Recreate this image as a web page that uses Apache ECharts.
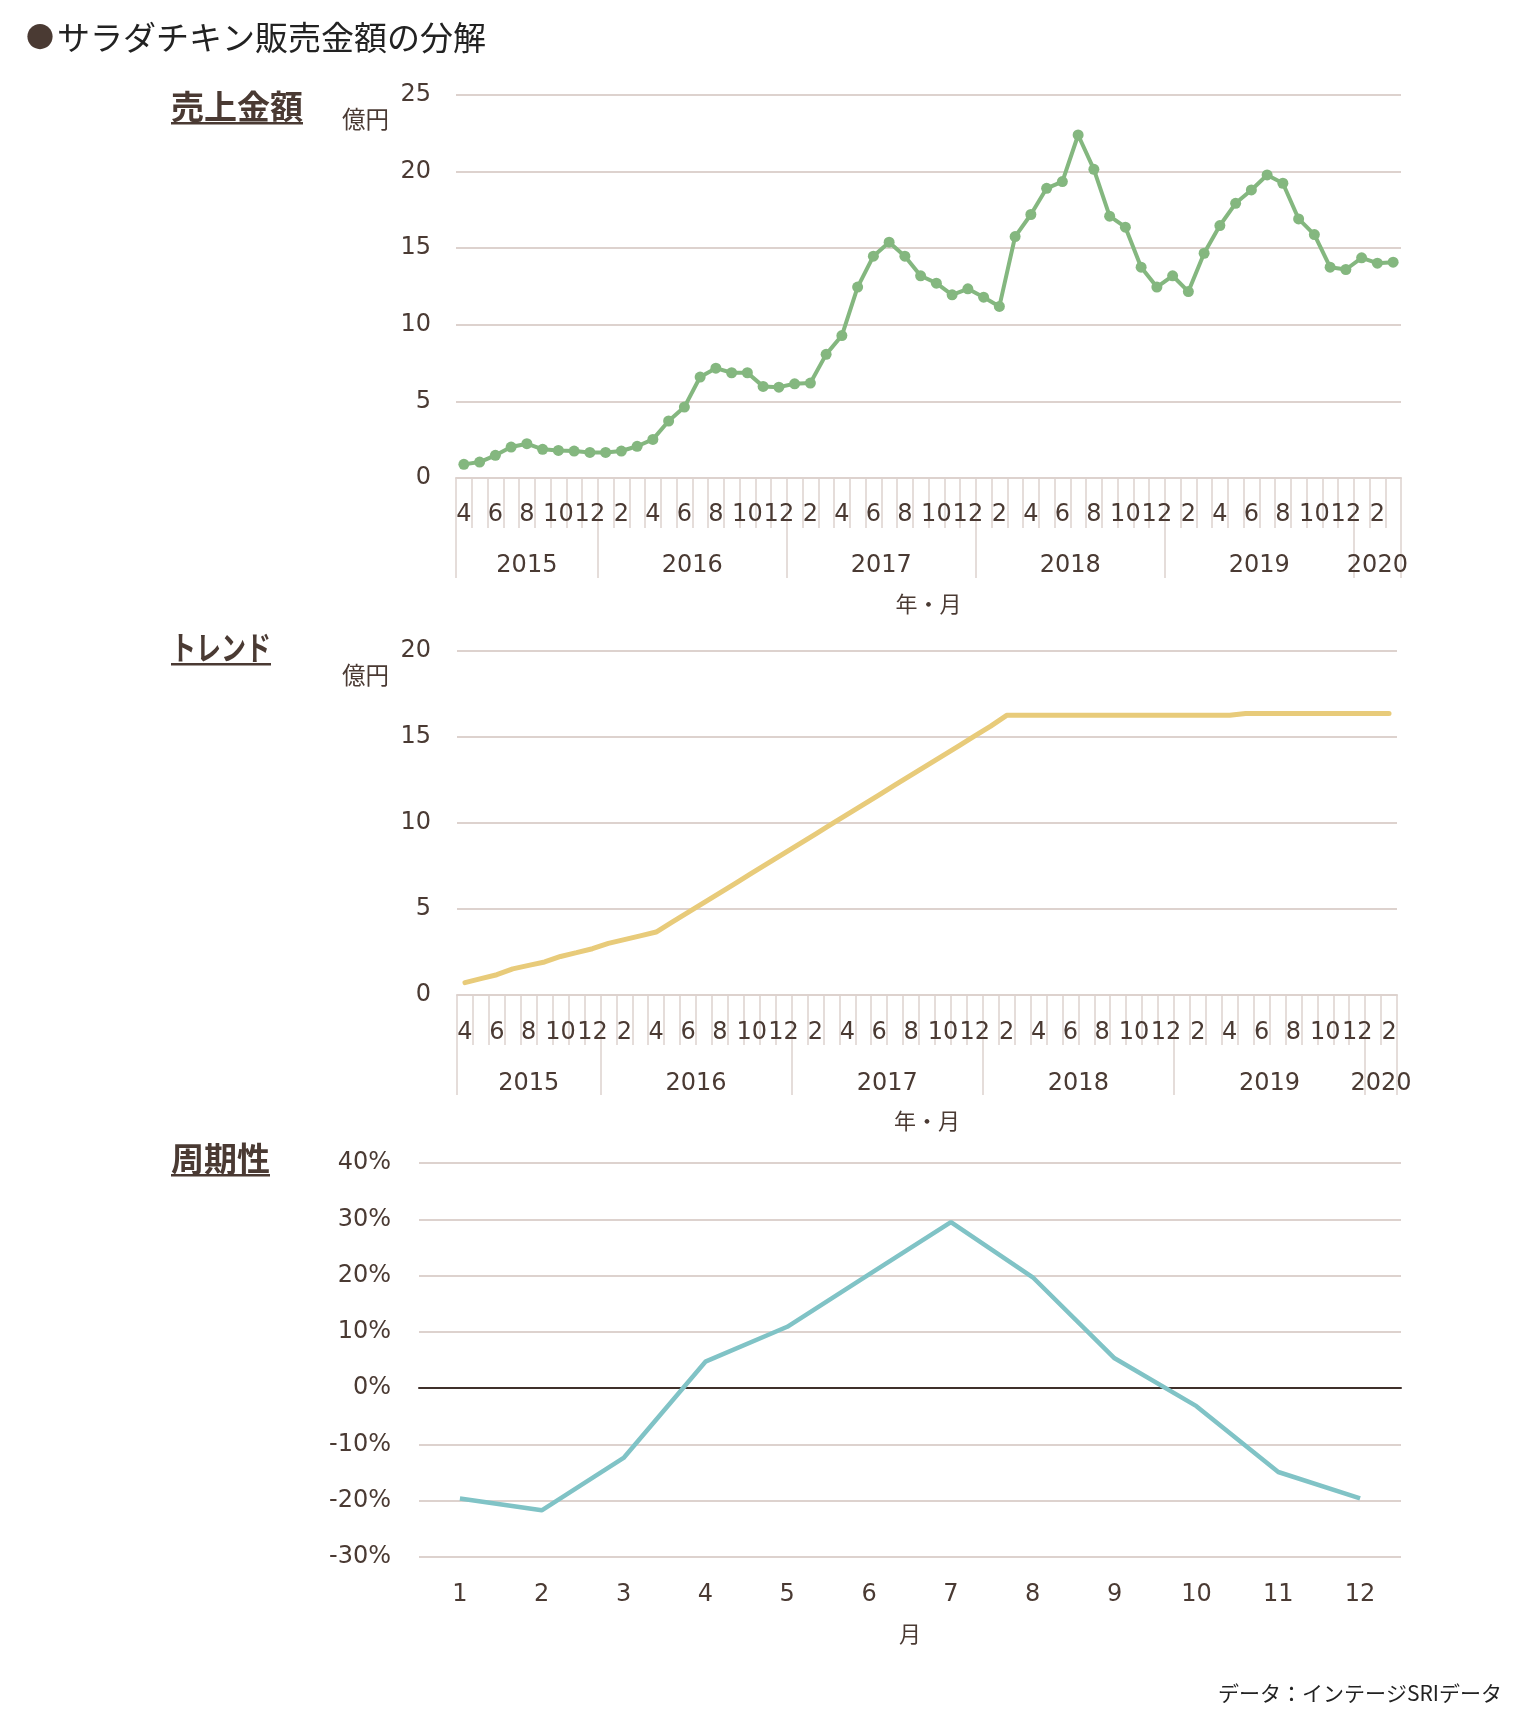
<!DOCTYPE html>
<html>
<head>
<meta charset="utf-8">
<title>サラダチキン販売金額の分解</title>
<script src="https://cdn.jsdelivr.net/npm/echarts@6/dist/echarts.min.js"></script>
<style>
  html, body { margin: 0; padding: 0; background: #fff; }
  #chart { width: 1520px; height: 1723px; }
</style>
</head>
<body>
<div id="chart"></div>
<script>
// 年/月（2015年4月〜2020年3月）
var salesPeriods = [
    '2015/4', '2015/5', '2015/6', '2015/7', '2015/8', '2015/9', '2015/10', '2015/11', '2015/12',
    '2016/1', '2016/2', '2016/3', '2016/4', '2016/5', '2016/6', '2016/7', '2016/8', '2016/9', '2016/10', '2016/11', '2016/12',
    '2017/1', '2017/2', '2017/3', '2017/4', '2017/5', '2017/6', '2017/7', '2017/8', '2017/9', '2017/10', '2017/11', '2017/12',
    '2018/1', '2018/2', '2018/3', '2018/4', '2018/5', '2018/6', '2018/7', '2018/8', '2018/9', '2018/10', '2018/11', '2018/12',
    '2019/1', '2019/2', '2019/3', '2019/4', '2019/5', '2019/6', '2019/7', '2019/8', '2019/9', '2019/10', '2019/11', '2019/12',
    '2020/1', '2020/2', '2020/3'
];

// 売上金額（億円）
var sales = [
    0.89, 1.04, 1.48, 2.02, 2.24, 1.87, 1.80, 1.76, 1.67,
    1.67, 1.76, 2.07, 2.52, 3.72, 4.63, 6.59, 7.17, 6.87, 6.87, 5.98, 5.93,
    6.15, 6.20, 8.07, 9.30, 12.46, 14.48, 15.39, 14.48, 13.20, 12.72, 11.96, 12.35,
    11.80, 11.20, 15.76, 17.20, 18.91, 19.35, 22.39, 20.15, 17.09, 16.37, 13.76, 12.46,
    13.20, 12.17, 14.67, 16.48, 17.93, 18.80, 19.78, 19.24, 16.91, 15.89, 13.76, 13.61,
    14.37, 14.02, 14.09
];

// トレンド（億円、2015年4月〜2020年2月）
var trend = [
    0.72, 0.95, 1.18, 1.52, 1.72, 1.92, 2.24, 2.46, 2.69,
    3.00, 3.22, 3.44, 3.66, 4.23, 4.80, 5.37, 5.94, 6.51, 7.08, 7.65, 8.22,
    8.79, 9.36, 9.93, 10.50, 11.07, 11.64, 12.21, 12.78, 13.35, 13.92, 14.49, 15.06,
    15.63, 16.26, 16.26, 16.26, 16.26, 16.26, 16.26, 16.26, 16.26, 16.26, 16.26, 16.26,
    16.26, 16.26, 16.26, 16.26, 16.36, 16.36, 16.36, 16.36, 16.36, 16.36, 16.36, 16.36,
    16.36, 16.36
];
var trendPeriods = salesPeriods.slice(0, trend.length);

// 周期性（%）
var seasonMonths = ['1', '2', '3', '4', '5', '6', '7', '8', '9', '10', '11', '12'];
var seasonality = [-19.6, -21.7, -12.4, 4.7, 10.9, 20.2, 29.5, 19.7, 5.3, -3.2, -14.9, -19.6];

// 目盛り
var salesTicks = [0, 5, 10, 15, 20, 25];
var trendTicks = [0, 5, 10, 15, 20];
var seasonTicks = [-30, -20, -10, 0, 10, 20, 30, 40];

var FONT = "'DejaVu Sans', 'Noto Sans CJK JP', sans-serif";
var JP = "'Noto Sans CJK JP', sans-serif";
var TEXT = '#4a3a33';
var GRID = '#ddd2ce';

var chart = echarts.init(document.getElementById('chart'));

// 年ごとのまとまり
function yearGroups(periods) {
    var groups = [];
    periods.forEach(function (p, i) {
        var y = p.split('/')[0];
        var last = groups[groups.length - 1];
        if (last && last.year === y) {
            last.count++;
        } else {
            groups.push({year: y, start: i, count: 1});
        }
    });
    return groups;
}

// 月ラベルの軸
function monthAxis(gridIndex, periods, margin) {
    return {
        type: 'category',
        gridIndex: gridIndex,
        position: 'bottom',
        data: periods,
        axisLine: {show: true, lineStyle: {color: GRID, width: 2}},
        axisTick: {show: true, interval: 0, length: 50, lineStyle: {color: GRID, width: 1.5}},
        axisLabel: {
            interval: 1, margin: margin, fontSize: 24, color: TEXT, fontFamily: FONT,
            formatter: function (v) { return v.split('/')[1]; }
        },
        splitLine: {show: false}
    };
}

// 年ラベルの軸（半月刻みで区切り線と中央のラベルを置く）
function yearAxis(gridIndex, periods, margin, nameGap) {
    var groups = yearGroups(periods);
    var n = periods.length;
    var slots = [];
    for (var j = 0; j <= 2 * n; j++) slots.push(String(j));
    var labelAt = {}, tickAt = {};
    groups.forEach(function (g) {
        labelAt[2 * g.start + g.count] = g.year;
        tickAt[2 * g.start] = true;
    });
    tickAt[2 * n] = true;
    return {
        type: 'category',
        gridIndex: gridIndex,
        position: 'bottom',
        boundaryGap: false,
        data: slots,
        axisLine: {show: false},
        axisTick: {
            show: true, length: 100, lineStyle: {color: GRID, width: 1.5},
            interval: function (i) { return !!tickAt[i]; }
        },
        axisLabel: {
            interval: 0, margin: margin, fontSize: 24, color: TEXT, fontFamily: FONT,
            formatter: function (v, i) { return labelAt[i] || ''; }
        },
        splitLine: {show: false},
        name: '年・月',
        nameLocation: 'middle',
        nameGap: nameGap,
        nameTextStyle: {fontSize: 22, color: TEXT, fontFamily: JP}
    };
}

function valueAxis(gridIndex, ticks, margin, formatter) {
    return {
        type: 'value',
        gridIndex: gridIndex,
        min: ticks[0],
        max: ticks[ticks.length - 1],
        interval: ticks[1] - ticks[0],
        axisLine: {show: false},
        axisTick: {show: false},
        axisLabel: {margin: margin, fontSize: 24, color: TEXT, fontFamily: FONT, formatter: formatter},
        splitLine: {lineStyle: {color: GRID, width: 2}}
    };
}

// 文字幅（下線用）
var ctx = document.createElement('canvas').getContext('2d');
function textWidth(str, font) {
    ctx.font = font;
    return ctx.measureText(str).width;
}

// 見出し（太字＋下線）。fitWidth があれば横幅をそろえる
function sectionTitle(text, y, fitWidth) {
    var font = 'bold 33px ' + JP;
    var w = textWidth(text, font);
    var sx = fitWidth ? fitWidth / w : 1;
    return [
        {type: 'text', x: 171, y: y, scaleX: sx, style: {text: text, font: font, fill: TEXT, align: 'left', verticalAlign: 'middle'}},
        {type: 'rect', shape: {x: 171, y: y + 16, width: w * sx, height: 2.5}, style: {fill: TEXT}}
    ];
}

var graphics = [
    {type: 'text', x: 26, y: 37, style: {text: '●', font: '28px ' + JP, fill: TEXT, align: 'left', verticalAlign: 'middle'}},
    {type: 'text', x: 57, y: 37, style: {text: 'サラダチキン販売金額の分解', font: '33px ' + JP, fill: '#222', align: 'left', verticalAlign: 'middle'}},
    {type: 'text', x: 342, y: 119, style: {text: '億円', font: '23.5px ' + JP, fill: TEXT, align: 'left', verticalAlign: 'middle'}},
    {type: 'text', x: 342, y: 675, style: {text: '億円', font: '23.5px ' + JP, fill: TEXT, align: 'left', verticalAlign: 'middle'}},
    {type: 'text', x: 1502, y: 1693, style: {text: 'データ：インテージSRIデータ', font: '21px ' + JP, fill: '#222', align: 'right', verticalAlign: 'middle'}}
].concat(sectionTitle('売上金額', 106), sectionTitle('トレンド', 647, 100), sectionTitle('周期性', 1158));

var option = {
    animation: false,
    backgroundColor: '#fff',
    textStyle: {fontFamily: FONT},
    grid: [
        {left: 456, top: 95, width: 945, height: 383, outerBoundsMode: 'none'},
        {left: 457, top: 651, width: 940, height: 344, outerBoundsMode: 'none'},
        {left: 419, top: 1163, width: 982, height: 394, outerBoundsMode: 'none'}
    ],
    xAxis: [
        monthAxis(0, salesPeriods, 25),
        yearAxis(0, salesPeriods, 76, 115),
        monthAxis(1, trendPeriods, 26),
        yearAxis(1, trendPeriods, 77, 115),
        {
            type: 'category', gridIndex: 2, position: 'bottom', data: seasonMonths,
            axisLine: {show: false, onZero: false},
            axisTick: {show: false},
            axisLabel: {interval: 0, margin: 26, fontSize: 24, color: TEXT, fontFamily: FONT},
            splitLine: {show: false},
            name: '月', nameLocation: 'middle', nameGap: 66,
            nameTextStyle: {fontSize: 22, color: TEXT, fontFamily: JP}
        },
        {
            type: 'category', gridIndex: 2, position: 'bottom', data: seasonMonths, z: 1,
            axisLine: {show: true, onZero: true, lineStyle: {color: '#3f302a', width: 2}},
            axisTick: {show: false},
            axisLabel: {show: false},
            splitLine: {show: false}
        }
    ],
    yAxis: [
        valueAxis(0, salesTicks, 25),
        valueAxis(1, trendTicks, 26),
        valueAxis(2, seasonTicks, 28, '{value}%')
    ],
    series: [
        {
            name: '売上金額', type: 'line', xAxisIndex: 0, yAxisIndex: 0,
            data: sales,
            symbol: 'circle', symbolSize: 11, showAllSymbol: true,
            lineStyle: {color: '#84b77f', width: 4},
            itemStyle: {color: '#84b77f'}
        },
        {
            name: 'トレンド', type: 'line', xAxisIndex: 2, yAxisIndex: 1,
            data: trend,
            symbol: 'none',
            lineStyle: {color: '#e8cb7a', width: 5, cap: 'round'}
        },
        {
            name: '周期性', type: 'line', xAxisIndex: 4, yAxisIndex: 2,
            data: seasonality,
            symbol: 'none',
            lineStyle: {color: '#80c3c6', width: 4.5}
        }
    ],
    graphic: graphics
};

chart.setOption(option);
</script>
</body>
</html>
